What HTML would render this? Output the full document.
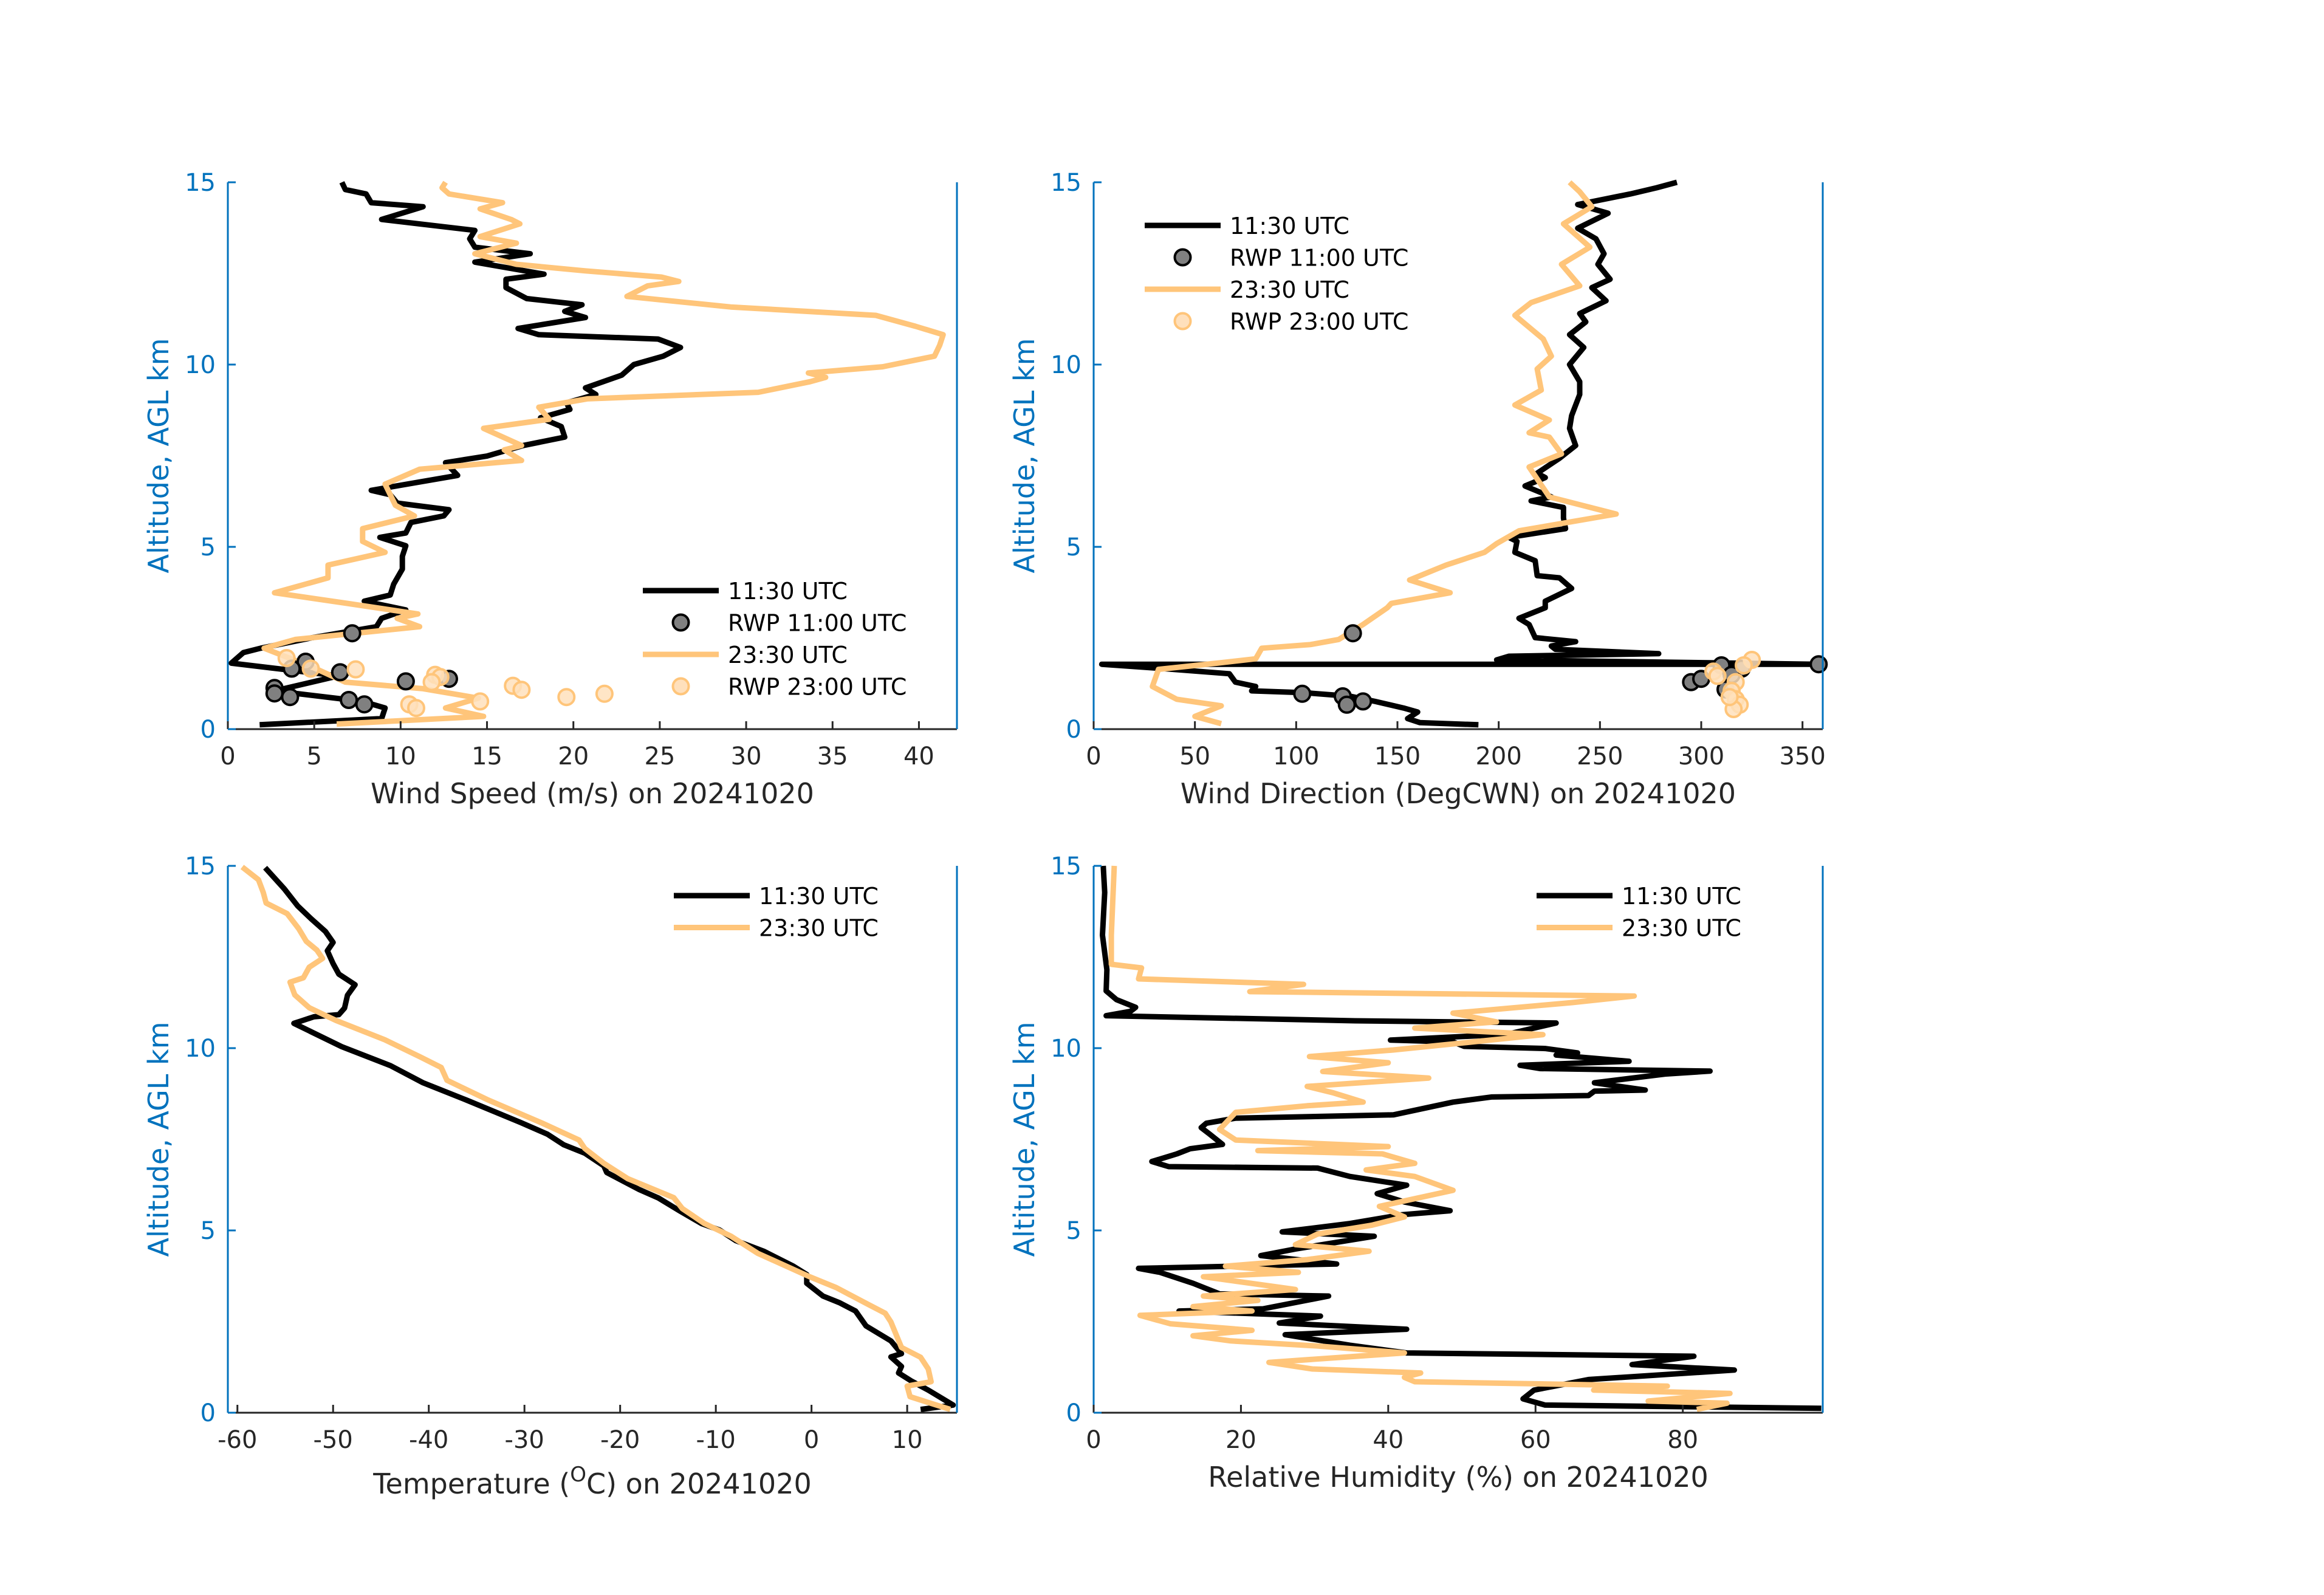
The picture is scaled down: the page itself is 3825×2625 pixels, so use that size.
<!DOCTYPE html>
<html><head><meta charset="utf-8">
<style>
html,body{margin:0;padding:0;background:#fff;}
svg{display:block;}
text{font-family:"DejaVu Sans","Liberation Sans",sans-serif;}
</style></head>
<body>
<svg id="fig" width="3825" height="2625" viewBox="0 0 3825 2625" xmlns="http://www.w3.org/2000/svg">
<rect x="0" y="0" width="3825" height="2625" fill="#fff"/>
</svg>
<script>
// ---------- data: [value, altitude km] ----------
const wsBlack=[[1.84,0.12],[8.9,0.29],[9.1,0.58],[7.8,0.76],[2.7,1.05],[6.4,1.46],[0.2,1.81],[0.9,2.1],[1.9,2.22],[4.9,2.51],[8.6,2.81],[8.9,3.04],[10.3,3.27],[7.9,3.51],[9.4,3.68],[9.6,3.98],[10.1,4.39],[10.1,4.74],[10.3,5.03],[8.8,5.26],[10.3,5.38],[10.6,5.67],[12.5,5.85],[12.8,6.02],[9.8,6.2],[9.4,6.43],[8.3,6.55],[13.3,6.96],[12.6,7.31],[15.0,7.49],[17.1,7.78],[19.5,8.01],[19.3,8.3],[18.1,8.54],[19.8,8.77],[19.6,8.95],[21.3,9.18],[20.7,9.36],[22.8,9.71],[23.5,10.0],[25.2,10.23],[26.2,10.47],[24.9,10.7],[18.0,10.82],[16.8,10.99],[20.7,11.29],[19.5,11.46],[20.5,11.64],[17.3,11.81],[16.1,12.11],[16.1,12.34],[18.3,12.48],[14.3,12.81],[17.5,13.04],[14.3,13.22],[14.0,13.45],[14.3,13.68],[8.9,13.98],[11.3,14.33],[8.3,14.44],[8.0,14.68],[6.8,14.8],[6.6,15.0]];
const wsOrange=[[6.3,0.14],[14.8,0.35],[12.6,0.58],[14.5,0.85],[11.3,1.11],[6.8,1.29],[4.9,1.7],[2.1,2.22],[3.9,2.46],[11.1,2.81],[9.8,3.04],[11.0,3.16],[6.9,3.45],[2.7,3.74],[5.8,4.15],[5.8,4.5],[9.1,4.85],[7.8,5.15],[7.8,5.5],[10.8,5.85],[9.7,6.14],[9.1,6.72],[11.1,7.13],[17.0,7.37],[16.0,7.66],[17.0,7.78],[14.8,8.25],[18.6,8.5],[18.0,8.83],[20.8,9.06],[30.7,9.24],[33.7,9.53],[34.6,9.65],[33.6,9.77],[37.9,9.94],[40.9,10.23],[41.2,10.53],[41.4,10.82],[39.8,11.05],[37.5,11.35],[29.1,11.58],[23.1,11.87],[24.3,12.16],[26.1,12.28],[25.1,12.40],[20.7,12.57],[16.7,12.75],[14.3,13.04],[16.7,13.33],[14.6,13.51],[16.9,13.86],[16.4,13.98],[14.6,14.27],[15.9,14.44],[12.8,14.68],[12.4,14.85],[12.6,15.0]];
const wsRwp11=[[7.2,2.63],[4.5,1.85],[3.7,1.66],[6.5,1.56],[10.3,1.31],[12.8,1.38],[2.7,1.13],[2.7,0.98],[3.6,0.88],[7.0,0.80],[7.9,0.68]];
const wsRwp23=[[3.4,1.95],[4.8,1.66],[7.4,1.64],[12.0,1.49],[12.3,1.43],[11.8,1.29],[16.5,1.19],[17.0,1.08],[19.6,0.88],[21.8,0.97],[14.6,0.76],[10.5,0.68],[10.9,0.58]];

const wdBlack=[[190,0.12],[161,0.18],[155,0.29],[160,0.47],[153,0.58],[139,0.76],[127,0.9],[104,1.0],[78,1.05],[80,1.17],[70,1.29],[67,1.52],[32,1.67],[4,1.78],[358,1.78],[199,1.9],[205,2.0],[279,2.07],[228,2.19],[226,2.28],[238,2.40],[218,2.51],[215,2.87],[210,3.04],[223,3.33],[223,3.51],[236,3.86],[230,4.15],[219,4.21],[218,4.62],[208,4.85],[209,5.15],[205,5.26],[233,5.5],[232,5.79],[232,6.08],[216,6.26],[226,6.37],[213,6.67],[223,6.9],[219,7.02],[230,7.43],[238,7.78],[235,8.25],[236,8.6],[240,9.18],[240,9.53],[235,10.0],[242,10.47],[235,10.82],[243,11.17],[240,11.4],[253,11.75],[246,12.11],[255,12.34],[249,12.75],[252,13.04],[248,13.45],[239,13.74],[254,14.15],[239,14.39],[265,14.68],[278,14.85],[288,15.0]];
const wdOrange=[[63,0.15],[50,0.35],[63,0.64],[41,0.82],[29,1.17],[32,1.64],[61,1.81],[80,1.93],[83,2.22],[107,2.32],[121,2.46],[133,2.87],[145,3.33],[147,3.45],[176,3.74],[156,4.09],[174,4.5],[193,4.85],[199,5.09],[210,5.44],[258,5.9],[225,6.37],[215,7.19],[231,7.55],[225,8.01],[215,8.13],[225,8.48],[208,8.89],[221,9.3],[219,9.88],[226,10.23],[222,10.7],[208,11.35],[216,11.7],[240,12.16],[231,12.75],[245,13.22],[232,13.86],[246,14.33],[240,14.74],[235,15.0]];
const wdRwp11=[[128,2.63],[103,0.97],[123,0.9],[125,0.67],[133,0.76],[358,1.78],[310,1.75],[320,1.66],[315,1.49],[295,1.29],[300,1.38],[312,1.09]];
const wdRwp23=[[325,1.9],[321,1.75],[306,1.58],[308,1.46],[317,1.29],[315,1.05],[317,0.82],[319,0.67],[316,0.55],[314,0.88]];

const tBlack=[[11.4,0.09],[14.8,0.21],[12.2,0.62],[10.5,0.86],[9.1,1.09],[9.4,1.27],[8.3,1.53],[9.4,1.62],[8.3,1.97],[5.7,2.38],[4.6,2.79],[2.9,3.02],[1.2,3.2],[-0.5,3.55],[-0.5,3.79],[-1.9,4.02],[-5.0,4.43],[-7.9,4.72],[-9.6,5.01],[-11.5,5.19],[-13.8,5.54],[-16.0,5.89],[-18.0,6.12],[-21.4,6.59],[-21.7,6.77],[-23.7,7.12],[-25.9,7.35],[-27.6,7.64],[-30.4,7.96],[-36.1,8.58],[-40.6,9.05],[-44.0,9.52],[-49.1,10.04],[-54.1,10.68],[-53.4,10.74],[-52.0,10.86],[-49.4,10.92],[-48.8,11.10],[-48.5,11.45],[-47.7,11.74],[-49.4,12.03],[-50.0,12.32],[-50.6,12.67],[-50.0,12.9],[-50.8,13.2],[-52.3,13.55],[-53.7,13.9],[-55.1,14.37],[-57.1,14.95]];
const tOrange=[[14.5,0.09],[10.3,0.44],[10.0,0.73],[12.5,0.85],[12.2,1.2],[11.4,1.52],[9.4,1.79],[8.3,2.49],[7.7,2.73],[6.0,2.96],[2.6,3.43],[-0.2,3.73],[-5.6,4.37],[-8.4,4.84],[-11.2,5.19],[-13.5,5.6],[-14.4,5.9],[-19.2,6.42],[-21.7,6.84],[-23.7,7.25],[-24.3,7.48],[-28.2,7.95],[-33.9,8.59],[-38.1,9.12],[-38.7,9.47],[-40.9,9.76],[-44.6,10.23],[-49.7,10.76],[-52.5,11.11],[-54.0,11.46],[-54.5,11.81],[-53.1,11.93],[-52.5,12.22],[-51.1,12.46],[-51.7,12.69],[-52.8,12.93],[-53.6,13.28],[-54.8,13.69],[-57.0,13.98],[-57.3,14.27],[-57.8,14.62],[-59.5,14.97]];

const rhBlack=[[98.8,0.12],[61.3,0.21],[58.3,0.38],[59.8,0.62],[67.2,0.91],[87.0,1.17],[73.1,1.32],[81.5,1.55],[42.5,1.64],[34.8,1.85],[26.0,2.14],[42.5,2.29],[25.2,2.46],[30.8,2.65],[11.6,2.79],[23.0,2.85],[31.9,3.2],[17.1,3.26],[13.5,3.55],[9.0,3.85],[6.1,3.96],[33.0,4.08],[22.7,4.31],[27.4,4.49],[38.1,4.84],[25.6,4.96],[34.8,5.19],[41.8,5.43],[48.4,5.54],[42.2,5.78],[38.5,6.01],[42.5,6.24],[34.8,6.48],[30.4,6.71],[10.2,6.75],[7.9,6.89],[11.3,7.1],[13.1,7.24],[17.5,7.36],[15.7,7.65],[14.6,7.82],[15.3,7.94],[19.3,8.08],[40.7,8.17],[48.8,8.52],[54.0,8.66],[67.2,8.7],[68.0,8.82],[74.9,8.85],[68.0,9.05],[77.6,9.29],[83.7,9.37],[60.6,9.44],[57.9,9.53],[72.7,9.64],[62.8,9.81],[65.7,9.87],[61.3,9.99],[50.3,10.05],[48.8,10.17],[40.3,10.22],[56.1,10.38],[62.8,10.69],[35.5,10.75],[1.7,10.89],[5.0,11.01],[5.7,11.12],[3.1,11.33],[1.7,11.57],[1.8,12.15],[1.2,13.1],[1.5,14.27],[1.3,15.0]];
const rhOrange=[[81.9,0.09],[86.0,0.26],[75.3,0.32],[86.4,0.53],[67.9,0.62],[77.9,0.73],[43.6,0.85],[42.2,0.97],[44.4,1.09],[29.7,1.2],[23.8,1.38],[42.2,1.64],[30.4,1.83],[18.6,1.97],[13.5,2.11],[21.5,2.26],[10.4,2.44],[6.3,2.67],[21.5,2.79],[13.5,2.91],[22.3,3.08],[14.9,3.2],[27.4,3.38],[14.9,3.73],[27.8,3.85],[17.9,4.02],[29.0,4.2],[37.4,4.43],[27.4,4.61],[30.4,4.9],[37.7,5.14],[42.2,5.37],[38.8,5.66],[48.8,6.1],[43.6,6.48],[37.0,6.66],[43.6,6.84],[39.2,7.1],[22.3,7.19],[40.0,7.3],[19.3,7.48],[17.1,7.77],[19.3,8.24],[29.0,8.42],[36.6,8.52],[32.6,8.77],[29.0,8.95],[45.5,9.18],[31.1,9.36],[40.0,9.6],[29.3,9.77],[40.7,9.95],[49.5,10.13],[61.0,10.37],[43.6,10.55],[54.7,10.72],[48.8,10.96],[65.0,11.25],[73.4,11.43],[21.2,11.55],[28.5,11.75],[6.1,11.9],[6.5,12.2],[2.4,12.3],[2.4,13.1],[2.8,15.0]];

const yTicks=[0,5,10,15];
const wsTicks=[0,5,10,15,20,25,30,35,40];
const wdTicks=[0,50,100,150,200,250,300,350];
const tTicks=[-60,-50,-40,-30,-20,-10,0,10];
const rhTicks=[0,20,40,60,80];

// ---------- drawing ----------
const NS="http://www.w3.org/2000/svg";
const svg=document.getElementById('fig');
const BLUE="#0072BD", DARK="#262626", ORANGE="#FFC57A";
function mk(tag,attrs,parent){const e=document.createElementNS(NS,tag);for(const k in attrs)e.setAttribute(k,attrs[k]);(parent||svg).appendChild(e);return e;}

function panel(o){
  const g=mk('g',{});
  
  
  const X=v=>o.x0+(v-o.xmin)/(o.xmax-o.xmin)*(o.x1-o.x0);
  const Y=h=>o.y1-h/15*(o.y1-o.y0);
  o.lines.forEach(s=>{
    const p=mk('path',{d:s.data.map((d,i)=>(i?'L':'M')+X(d[0]).toFixed(1)+' '+Y(d[1]).toFixed(1)).join(''),fill:'none',stroke:s.color,'stroke-width':9,'stroke-linejoin':'round','stroke-linecap':'butt'},g);
    
    
  });
  (o.points||[]).forEach(s=>{
    s.data.forEach(d=>{
      const c=mk('circle',{cx:X(d[0]).toFixed(1),cy:Y(d[1]).toFixed(1),r:13,fill:s.fill,stroke:s.stroke,'stroke-width':4,'fill-opacity':s.op},g);
      
      
    });
  });
  const xa=mk('line',{x1:o.x0,y1:o.y1,x2:o.x1,y2:o.y1,stroke:DARK,'stroke-width':3},g);
  
  
  const ya=mk('line',{x1:o.x0,y1:o.y0,x2:o.x0,y2:o.y1,stroke:BLUE,'stroke-width':3},g);
  
  
  const yr=mk('line',{x1:o.x1,y1:o.y0,x2:o.x1,y2:o.y1,stroke:BLUE,'stroke-width':3},g);
  
  
  o.xticks.forEach(t=>{
    const x=X(t);
    mk('line',{x1:x,y1:o.y1,x2:x,y2:o.y1-13,stroke:DARK,'stroke-width':3},g);
    const tx=mk('text',{x:x,y:o.y1+58,'font-size':40,fill:DARK,'text-anchor':'middle'},g);
    tx.textContent=String(t);
    
    
  });
  yTicks.forEach(t=>{
    const y=Y(t);
    mk('line',{x1:o.x0,y1:y,x2:o.x0+13,y2:y,stroke:BLUE,'stroke-width':3},g);
    const tx=mk('text',{x:o.x0-20,y:y+14,'font-size':40,fill:BLUE,'text-anchor':'end'},g);
    tx.textContent=String(t);
    
    
  });
  const yl=mk('text',{x:0,y:0,'font-size':46,fill:BLUE,'text-anchor':'middle',transform:`translate(${o.x0-98},${(o.y0+o.y1)/2}) rotate(-90)`},g);
  yl.textContent='Altitude, AGL km';
  
  
  const xl=mk('text',{x:(o.x0+o.x1)/2,y:o.y1+o.xlOff,'font-size':46,fill:DARK,'text-anchor':'middle'},g);
  xl.innerHTML=o.xlabel;
  
  
  o.legend.items.forEach((it,i)=>{
    const y=o.legend.y+i*52.5;
    const lx0=o.legend.x, lx1=o.legend.x+125;
    if(it.type==='line'){
      mk('line',{x1:lx0,y1:y,x2:lx1,y2:y,stroke:it.color,'stroke-width':9},g);
    } else {
      mk('circle',{cx:(lx0+lx1)/2,cy:y,r:13,fill:it.fill,stroke:it.stroke,'stroke-width':4,'fill-opacity':it.op},g);
    }
    const tx=mk('text',{x:lx0+140,y:y+14,'font-size':38,fill:'#000'},g);
    tx.textContent=it.label;
    
    
  });
}
const L11={type:'line',color:'#000',label:'11:30 UTC'};
const L23={type:'line',color:ORANGE,label:'23:30 UTC'};
const M11={type:'pt',fill:'#808080',stroke:'#000',op:1,label:'RWP 11:00 UTC'};
const M23={type:'pt',fill:'#FFE0BC',stroke:ORANGE,op:1,label:'RWP 23:00 UTC'};

panel({name:'wind-speed-panel',x0:375,x1:1575,y0:300,y1:1200,xmin:0,xmax:42.2,xticks:wsTicks,xlOff:122,
  xlabel:'Wind Speed (m/s) on 20241020',
  lines:[{data:wsBlack,color:'#000',name:'ws-1130-line'},{data:wsOrange,color:ORANGE,name:'ws-2330-line'}],
  points:[{data:wsRwp11,fill:'#808080',stroke:'#000',op:1,name:'ws-rwp-1100-point'},{data:wsRwp23,fill:'#FFE0BC',stroke:ORANGE,op:0.85,name:'ws-rwp-2300-point'}],
  legend:{x:1058,y:972,items:[L11,M11,L23,M23]}});
panel({name:'wind-direction-panel',x0:1800,x1:3000,y0:300,y1:1200,xmin:0,xmax:360,xticks:wdTicks,xlOff:122,
  xlabel:'Wind Direction (DegCWN) on 20241020',
  lines:[{data:wdBlack,color:'#000',name:'wd-1130-line'},{data:wdOrange,color:ORANGE,name:'wd-2330-line'}],
  points:[{data:wdRwp11,fill:'#808080',stroke:'#000',op:1,name:'wd-rwp-1100-point'},{data:wdRwp23,fill:'#FFE0BC',stroke:ORANGE,op:0.85,name:'wd-rwp-2300-point'}],
  legend:{x:1884,y:371,items:[L11,M11,L23,M23]}});
panel({name:'temperature-panel',x0:375,x1:1575,y0:1425,y1:2325,xmin:-61,xmax:15.2,xticks:tTicks,xlOff:133,
  xlabel:'Temperature (<tspan baseline-shift="super" font-size="34">O</tspan>C) on 20241020',
  lines:[{data:tBlack,color:'#000',name:'temp-1130-line'},{data:tOrange,color:ORANGE,name:'temp-2330-line'}],
  legend:{x:1109,y:1474,items:[L11,L23]}});
panel({name:'humidity-panel',x0:1800,x1:3000,y0:1425,y1:2325,xmin:0,xmax:99,xticks:rhTicks,xlOff:122,
  xlabel:'Relative Humidity (%) on 20241020',
  lines:[{data:rhBlack,color:'#000',name:'rh-1130-line'},{data:rhOrange,color:ORANGE,name:'rh-2330-line'}],
  legend:{x:2529,y:1474,items:[L11,L23]}});
</script>
</body></html>
